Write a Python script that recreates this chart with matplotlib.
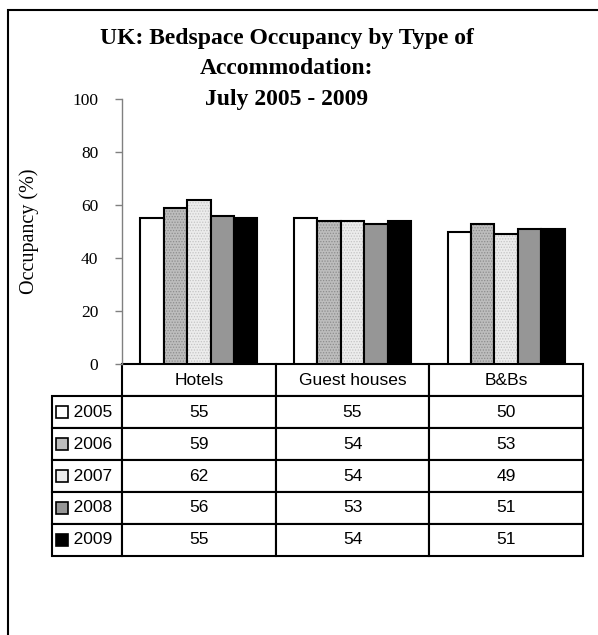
import matplotlib
matplotlib.use("Agg")
import numpy as np
import matplotlib.pyplot as plt
from matplotlib.patches import Rectangle
from matplotlib.table import Table

# data
categories = ["Hotels", "Guest houses", "B&Bs"]
years = ["2005", "2006", "2007", "2008", "2009"]
occ_2005 = [55, 55, 50]
occ_2006 = [59, 54, 53]
occ_2007 = [62, 54, 49]
occ_2008 = [56, 53, 51]
occ_2009 = [55, 54, 51]
series = [occ_2005, occ_2006, occ_2007, occ_2008, occ_2009]
y_ticks = [0, 20, 40, 60, 80, 100]

# fill colour and dot texture for each year
fills = ["white", "#bdbdbd", "#ececec", "#969696", "black"]
hatches = [None, "......", "......", None, None]
hatch_cols = [None, "#8c8c8c", "#c4c4c4", None, None]

plt.rcParams["hatch.linewidth"] = 0.6

fig = plt.figure(figsize=(5.98, 6.35), dpi=100)
ax = fig.add_axes([122 / 598, 1 - 364 / 635, 461 / 598, 265 / 635])

x = np.arange(len(categories))
width = 0.152
for i, vals in enumerate(series):
    pos = x + (i - 2) * width
    # textured fill first, then the black outline on top
    if hatches[i] is not None:
        ax.bar(pos, vals, width, color=fills[i], edgecolor=hatch_cols[i],
               hatch=hatches[i], linewidth=0)
        ax.bar(pos, vals, width, fill=False, edgecolor="black", linewidth=1.5)
    else:
        ax.bar(pos, vals, width, color=fills[i], edgecolor="black", linewidth=1.5)

ax.set_xlim(-0.5, len(categories) - 0.5)
ax.set_ylim(0, 100)
ax.set_yticks(y_ticks)
ax.set_yticklabels([str(t) for t in y_ticks], fontfamily="Liberation Serif", fontsize=12.5)
ax.set_xticks([])
ax.tick_params(axis="y", direction="out", length=5, pad=12, color="#808080", width=1)
for side in ["top", "right", "bottom"]:
    ax.spines[side].set_visible(False)
ax.spines["left"].set_color("#808080")
ax.spines["left"].set_linewidth(1)

ax.set_ylabel("Occupancy (%)", fontfamily="Liberation Serif", fontsize=14.5)
ax.yaxis.set_label_coords(-0.18, 0.5)

# data table under the bars, built cell by cell in axes units
# (bbox covers the value grid only; the year column sits to its left)
n_rows = len(years) + 1
tab_h = 192 / 265
col_w = 1 / len(categories)
lab_w = 70 / 461
row_h = tab_h / n_rows
tab = Table(ax, bbox=[0, -tab_h, 1, tab_h])
for j, cat in enumerate(categories):
    tab.add_cell(0, j, width=col_w, height=row_h, text=cat, loc="center")
for i, vals in enumerate(series):
    tab.add_cell(i + 1, -1, width=lab_w, height=row_h, text="   " + years[i], loc="left")
    for j, v in enumerate(vals):
        tab.add_cell(i + 1, j, width=col_w, height=row_h, text=str(v), loc="center")
tab.auto_set_font_size(False)
tab.set_fontsize(12.5)
for (r, c), cell in tab.get_celld().items():
    cell.set_linewidth(1.5)
    cell.set_edgecolor("black")
    cell.get_text().set_fontfamily("Liberation Sans")
ax.add_table(tab)

# legend keys inside the year cells
kw = 12 / 461
kh = 12 / 265
for i in range(len(years)):
    cy = -(i + 1.5) * row_h
    ax.add_patch(Rectangle((-lab_w + 4 / 461, cy - kh / 2), kw, kh,
                           facecolor=fills[i], edgecolor="black", linewidth=1.2,
                           transform=ax.transAxes, clip_on=False, zorder=30))

fig.text(0.479, 1 - 69 / 635,
         "UK: Bedspace Occupancy by Type of\nAccommodation:\nJuly 2005 - 2009",
         ha="center", va="center", fontfamily="Liberation Serif",
         fontweight="bold", fontsize=17, linespacing=1.62)

# outer frame (runs off the right and bottom edges)
fig.patches.append(Rectangle((8 / 598, -0.1), 1.0, 1.1 - 10 / 635, fill=False,
                             edgecolor="black", linewidth=1.5,
                             transform=fig.transFigure, figure=fig))

fig.savefig("out.png", dpi=100)
